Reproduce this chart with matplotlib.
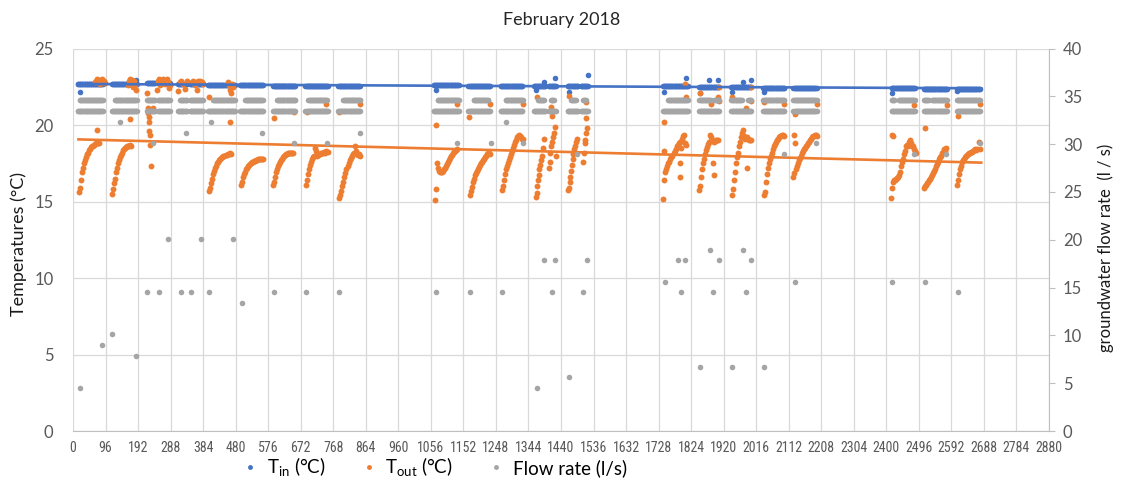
import numpy as np
import matplotlib.pyplot as plt
from matplotlib.lines import Line2D

plt.rcParams['font.family'] = ['Lato', 'DejaVu Sans']
plt.rcParams['mathtext.fontset'] = 'custom'
plt.rcParams['mathtext.rm'] = 'Lato'

BLUE = '#4472C4'
ORANGE = '#ED7D31'
GRAY = '#A5A5A5'

# sample index axis (15 min steps), ticks every day
x_ticks = list(range(0, 2881, 96))

# T_in readings, run-length: (first sample, last sample, level degC)
tin_runs = [
    (14, 88, 22.70), (115, 189, 22.70), (218, 242, 22.72), (251, 286, 22.72),
    (310, 336, 22.70), (345, 384, 22.70), (398, 478, 22.62), (493, 561, 22.60),
    (591, 656, 22.58), (686, 753, 22.57), (783, 848, 22.56), (1064, 1138, 22.60),
    (1167, 1232, 22.58), (1262, 1327, 22.57), (1360, 1395, 22.55), (1404, 1425, 22.55),
    (1460, 1490, 22.55), (1499, 1519, 22.55), (1741, 1815, 22.52), (1848, 1907, 22.50),
    (1943, 2002, 22.50), (2037, 2099, 22.45), (2126, 2194, 22.45), (2416, 2484, 22.40),
    (2511, 2579, 22.38), (2608, 2676, 22.38),
]
tin_extra_x = [20, 185, 1072, 1366, 1390, 1423, 1464, 1519, 1745, 1809, 1849,
               1878, 1903, 1944, 1977, 2002, 2039, 2416, 2608]
tin_extra_y = [22.18, 22.94, 22.29, 22.29, 22.83, 23.05, 22.18, 23.27, 22.18, 23.05, 22.07,
               22.94, 22.94, 22.18, 22.80, 22.94, 22.13, 22.07, 22.20]

# T_out daily recovery curves: start sample, readings every 3rd sample
tout_curve_starts = [18, 115, 402, 496, 589, 688, 786, 1068, 1170, 1266,
                     1742, 1847, 1945, 2039, 2126, 2413, 2511, 2609]
tout_curves = [
    [15.6, 15.9, 16.4, 16.9, 17.2, 17.5, 17.7, 17.9, 18.1, 18.2, 18.35, 18.45,
     18.55, 18.6, 18.65, 18.7, 18.75, 18.8, 18.8, 18.85, 18.85],
    [15.5, 15.8, 16.2, 16.5, 16.9, 17.2, 17.5, 17.7, 17.9, 18.05, 18.2, 18.35,
     18.45, 18.5, 18.55, 18.6, 18.6, 18.65, 18.7, 18.65],
    [15.7, 15.9, 16.2, 16.5, 16.8, 17.0, 17.2, 17.35, 17.5, 17.6, 17.7, 17.8,
     17.85, 17.9, 17.95, 18.0, 18.05, 18.05, 18.1, 18.1, 18.15, 18.1],
    [16.1, 16.3, 16.6, 16.8, 16.95, 17.1, 17.2, 17.3, 17.4, 17.45, 17.5, 17.55,
     17.6, 17.65, 17.65, 17.7, 17.7, 17.75, 17.75, 17.8, 17.75, 17.8, 17.75],
    [16.1, 16.3, 16.6, 16.9, 17.1, 17.3, 17.45, 17.6, 17.7, 17.8, 17.9, 18.0,
     18.05, 18.1, 18.1, 18.15, 18.15, 18.2, 18.15, 18.2, 18.15],
    [16.1, 16.4, 16.8, 17.1, 17.4, 17.6, 17.8, 17.9, 18.0, 18.5, 18.3, 18.0,
     18.05, 18.1, 18.1, 18.15, 18.2, 18.2, 18.25, 18.2, 18.3, 18.25],
    [15.2, 15.45, 15.7, 16.0, 16.3, 16.6, 16.85, 17.1, 17.3, 17.5, 17.7, 17.85,
     18.0, 18.1, 18.2, 18.6, 18.3, 18.1, 18.05, 18.1, 18.0],
    [15.1, 15.8, 17.5, 17.2, 17.0, 16.9, 16.9, 16.95, 17.0, 17.1, 17.2, 17.3,
     17.45, 17.6, 17.7, 17.85, 17.95, 18.05, 18.15, 18.25, 18.3, 18.35, 18.4],
    [15.4, 15.7, 15.95, 16.3, 16.5, 16.7, 16.85, 17.0, 17.1, 17.25, 17.4, 17.5,
     17.6, 17.7, 17.8, 17.9, 18.0, 18.1, 18.2, 18.15, 18.1],
    [15.75, 16.0, 16.4, 16.8, 17.1, 17.3, 17.5, 17.7, 17.9, 18.1, 18.3, 18.5,
     18.7, 18.9, 19.05, 19.2, 19.3, 19.35, 19.3, 19.2, 19.1, 19.1],
    [15.15, 16.4, 16.9, 17.1, 17.3, 17.5, 17.6, 17.75, 17.9, 18.0, 18.15, 18.3,
     18.45, 18.6, 18.7, 18.85, 18.9, 18.5, 19.1, 19.3, 19.35, 18.8, 18.7],
    [15.75, 16.0, 16.6, 17.1, 17.5, 17.8, 18.1, 18.35, 18.55, 18.75, 18.9, 19.35,
     19.2, 19.0, 18.95, 18.9, 18.95, 19.0, 19.05, 19.0],
    [15.4, 15.8, 16.4, 16.95, 17.5, 17.9, 18.2, 18.6, 18.9, 19.2, 19.5, 19.65,
     19.3, 19.1, 19.15, 19.2, 19.1, 19.0, 19.05, 19.0],
    [15.4, 15.6, 16.3, 16.8, 17.2, 17.5, 17.8, 18.0, 18.2, 18.4, 18.6, 18.75,
     18.9, 19.0, 19.1, 19.2, 19.25, 19.3, 19.35, 19.35, 19.3],
    [16.6, 16.85, 17.1, 17.3, 17.5, 17.7, 17.85, 18.0, 18.15, 18.3, 18.4, 18.5,
     18.6, 18.7, 18.8, 18.9, 19.0, 19.1, 19.2, 19.25, 19.3, 19.35, 19.35, 19.3],
    [15.2, 15.9, 16.3, 16.4, 16.4, 16.5, 16.55, 16.6, 16.7, 16.95, 17.3, 17.6,
     17.8, 18.1, 18.3, 18.6, 18.7, 18.6, 18.9, 19.0, 18.8, 18.65, 18.6, 18.4,
     18.3, 18.2],
    [15.9, 16.0, 16.1, 16.2, 16.3, 16.4, 16.5, 16.6, 16.7, 16.85, 17.0, 17.15,
     17.3, 17.45, 17.6, 17.75, 17.9, 18.0, 18.15, 18.25, 18.4, 18.3, 18.5],
    [16.1, 16.4, 16.8, 17.1, 17.35, 17.55, 17.7, 17.8, 17.9, 17.95, 18.05, 18.1,
     18.15, 18.2, 18.25, 18.25, 18.3, 18.35, 18.4, 18.35, 18.4, 18.9, 18.4],
]

# T_out scattered readings (short flow days, warm starts/ends, no-flow periods)
tout_x = [219, 221, 222, 223, 224, 225, 226, 228, 230, 236,
          1367, 1368, 1370, 1372, 1374, 1376, 1378, 1380, 1383, 1386, 1389,
          1405, 1407, 1409, 1411, 1413, 1415, 1418, 1421, 1425,
          1462, 1464, 1466, 1468, 1470, 1472, 1474, 1476, 1478, 1480, 1483, 1486,
          1505, 1508, 1510, 1512, 1515, 1518,
          71, 168, 400, 463, 592, 653, 690, 748, 784, 848, 1070, 1134, 1168, 1231,
          1329, 1369, 1410, 1412, 1464, 1513, 1514, 1745, 1807, 1809, 1849, 1883,
          1903, 1905, 1906, 1944, 1987, 2000, 2001, 2039, 2098, 2130, 2194, 2483,
          2513, 2579, 2611, 2677, 1790, 1792, 1889, 1891, 1988, 1744, 2129, 2131,
          2416, 2420]
tout_y = [22.1, 21.1, 20.8, 20.5, 20.2, 19.6, 19.35, 18.7, 17.3, 21.1,
          15.3, 15.55, 16.0, 16.4, 16.7, 17.1, 17.4, 17.7, 17.95, 18.5, 19.1,
          17.2, 17.6, 18.2, 18.6, 18.9, 19.2, 19.5, 19.9, 18.0,
          15.75, 15.9, 16.3, 16.6, 17.0, 17.4, 17.8, 18.1, 18.4, 18.6, 18.9, 19.1,
          17.6, 18.2, 18.8, 19.0, 19.5, 19.8,
          19.67, 20.4, 21.8, 20.2, 20.43, 20.87, 20.87, 21.35, 20.87, 21.4, 20.0, 21.4, 20.55, 21.4,
          21.4, 21.8, 21.2, 20.6, 21.9, 20.45, 21.5, 20.2, 22.68, 21.8, 22.07, 21.35,
          21.8, 22.5, 21.6, 21.8, 21.1, 22.5, 21.6, 21.5, 21.35, 20.7, 21.35, 21.3,
          19.8, 21.3, 20.6, 21.35, 17.5, 16.6, 17.5, 16.7, 17.2, 18.3, 19.35, 18.85,
          19.35, 19.3]

# T_out close to T_in while no heat was taken (early days)
tout_top_x = [64, 67, 70, 73, 76, 79, 82, 85, 88, 91, 94,
              163, 166, 169, 172, 175, 178, 181, 184, 187,
              248, 251, 254, 257, 260, 263, 266, 269, 272, 275, 278, 281, 284, 287,
              310, 315, 320, 325, 330, 335, 350, 355, 360, 365, 370, 375, 380, 385,
              458, 461, 464, 467, 470, 473]
tout_top_y = [22.8, 22.9, 23.0, 22.85, 22.95, 22.7, 22.9, 23.0, 22.8, 22.9, 22.75,
              22.6, 22.9, 23.0, 22.8, 22.95, 22.5, 22.85, 22.6, 22.3,
              22.3, 22.9, 23.0, 22.6, 22.95, 22.8, 23.0, 22.9, 22.7, 22.95, 23.0, 22.8, 22.4, 22.6,
              22.2, 22.8, 22.9, 22.7, 22.35, 22.85, 22.8, 22.9, 22.6, 22.3, 22.85, 22.9, 22.8, 22.7,
              22.8, 22.6, 22.3, 22.1, 22.7, 22.5]

# flow rate (l/s): readings toggling between two levels, run-length
flow_lo_level = 33.5
flow_hi_level = 34.6
flow_lo_runs = [
    (14, 88), (115, 189), (218, 242), (251, 286), (310, 336), (345, 384), (398, 478),
    (493, 561), (591, 656), (686, 753), (783, 848), (1064, 1138), (1167, 1232),
    (1262, 1327), (1360, 1395), (1404, 1425), (1460, 1490), (1499, 1519), (1741, 1815),
    (1848, 1907), (1943, 2002), (2037, 2099), (2126, 2194), (2416, 2484), (2511, 2579),
    (2608, 2676),
]
flow_hi_runs = [
    (20, 88), (124, 189), (218, 242), (251, 286), (316, 336), (345, 384), (413, 478),
    (508, 561), (602, 656), (694, 750), (798, 848), (1076, 1138), (1182, 1227),
    (1277, 1327), (1372, 1390), (1410, 1419), (1469, 1484), (1505, 1514), (1756, 1815),
    (1848, 1883), (1892, 1907), (1943, 1973), (1993, 2002), (2037, 2099), (2126, 2194),
    (2416, 2425), (2436, 2484), (2511, 2526), (2535, 2579), (2608, 2676),
]
flow_stray_x = [20, 87, 115, 140, 185, 219, 237, 253, 281, 318, 333, 348, 377, 400, 407,
                472, 498, 557, 594, 653, 688, 750, 784, 846, 1071, 1134, 1170, 1233, 1267,
                1277, 1327, 1368, 1389, 1412, 1423, 1465, 1487, 1505, 1518, 1746, 1784,
                1793, 1807, 1850, 1880, 1888, 1906, 1945, 1978, 1986, 2001, 2040, 2097,
                2131, 2191, 2417, 2482, 2515, 2577, 2610, 2677]
flow_stray_y = [4.53, 8.96, 10.1, 32.3, 7.88, 14.54, 30.1, 14.54, 20.1, 14.54, 31.2, 14.54,
                20.1, 14.54, 32.3, 20.1, 13.4, 31.2, 14.54, 30.15, 14.54, 30.15, 14.54, 31.2,
                14.54, 30.15, 14.54, 30.15, 14.54, 32.3, 30.15, 4.53, 17.9, 14.54, 17.9, 5.65,
                29.0, 14.54, 17.9, 15.58, 17.9, 14.54, 17.9, 6.73, 18.96, 14.54, 17.9, 6.73,
                18.96, 14.54, 17.9, 6.73, 29.0, 15.58, 30.15, 15.58, 29.0, 15.58, 29.0,
                14.54, 30.15]

# linear trendlines (Excel), end values
trend_x = [16, 2680]
tin_trend = [22.68, 22.40]
tout_trend = [19.06, 17.54]


def expand_runs(runs, step=2):
    xs, ys = [], []
    for r in runs:
        a, b = r[0], r[1]
        level = r[2] if len(r) > 2 else None
        for v in range(a, b + 1, step):
            xs.append(v)
            ys.append(level)
    return xs, ys


fig = plt.figure(figsize=(11.23, 4.82), dpi=100)
ax = fig.add_axes([73 / 1123, 1 - 431 / 482, (1049 - 73) / 1123, (431 - 48.5) / 482])

# T_in
bx, by = expand_runs(tin_runs)
ax.scatter(bx + tin_extra_x, by + tin_extra_y, s=16, color=BLUE, lw=0, zorder=2)

# T_out
ox, oy = [], []
for start, vals in zip(tout_curve_starts, tout_curves):
    ox += [start + 3 * i for i in range(len(vals))]
    oy += vals
ox += tout_x + tout_top_x
oy += tout_y + tout_top_y
ax.scatter(ox, oy, s=18, color=ORANGE, lw=0, zorder=2)

ax.plot(trend_x, tin_trend, color=BLUE, lw=1.9, zorder=3)
ax.plot(trend_x, tout_trend, color=ORANGE, lw=1.9, zorder=3)

ax.set_xlim(0, 2880)
ax.set_ylim(0, 25)
ax.set_xticks(x_ticks)
ax.set_yticks([0, 5, 10, 15, 20, 25])
ax.grid(color='#d9d9d9', lw=0.9)
ax.set_axisbelow(True)
for s in ['top', 'left', 'right']:
    ax.spines[s].set_visible(False)
ax.spines['bottom'].set_color('#bfbfbf')
ax.tick_params(axis='x', length=0, pad=7, labelsize=10, labelcolor='#595959')
ax.tick_params(axis='y', length=0, pad=14, labelsize=12, labelcolor='#595959')
for lbl in ax.get_xticklabels():
    lbl.set_fontfamily(['Liberation Sans Narrow', 'Roboto Condensed', 'Lato'])
ax.set_ylabel('Temperatures (°C)', fontsize=13, color='#1a1a1a')
ax.yaxis.set_label_coords(-0.047, 0.49)

# flow rate on secondary axis
ax2 = ax.twinx()
glx, gly = expand_runs(flow_lo_runs)
ghx, ghy = expand_runs(flow_hi_runs)
gx = glx + ghx + flow_stray_x
gy = [flow_lo_level] * len(glx) + [flow_hi_level] * len(ghx) + flow_stray_y
ax2.scatter(gx, gy, s=16, color=GRAY, lw=0, zorder=2)
ax2.set_ylim(0, 40)
ax2.set_yticks(range(0, 41, 5))
for s in ['top', 'left', 'bottom']:
    ax2.spines[s].set_visible(False)
ax2.spines['right'].set_color('#bfbfbf')
ax2.tick_params(axis='y', length=4, color='#bfbfbf', pad=6, labelsize=12,
                labelcolor='#595959')
ax2.set_ylabel('groundwater flow rate  (l / s)', fontsize=12, color='#1a1a1a')
ax2.yaxis.set_label_coords(1.05, 0.48)

fig.text(0.5, 1 - 20 / 482, 'February 2018', ha='center', va='center',
         fontsize=13, color='#262626')

handles = [Line2D([], [], marker='o', ls='', color=c, markersize=3.5, markeredgewidth=0)
           for c in (BLUE, ORANGE, GRAY)]
labels = [r'T$_{\mathrm{in}}$ (°C)', r'T$_{\mathrm{out}}$ (°C)', 'Flow rate (l/s)']
fig.legend(handles, labels, loc='center', bbox_to_anchor=(0.388, 0.03), ncol=3,
           frameon=False, fontsize=13.5, handlelength=0.6, handletextpad=0.6,
           columnspacing=2.0)

fig.savefig('out.png', dpi=100)
